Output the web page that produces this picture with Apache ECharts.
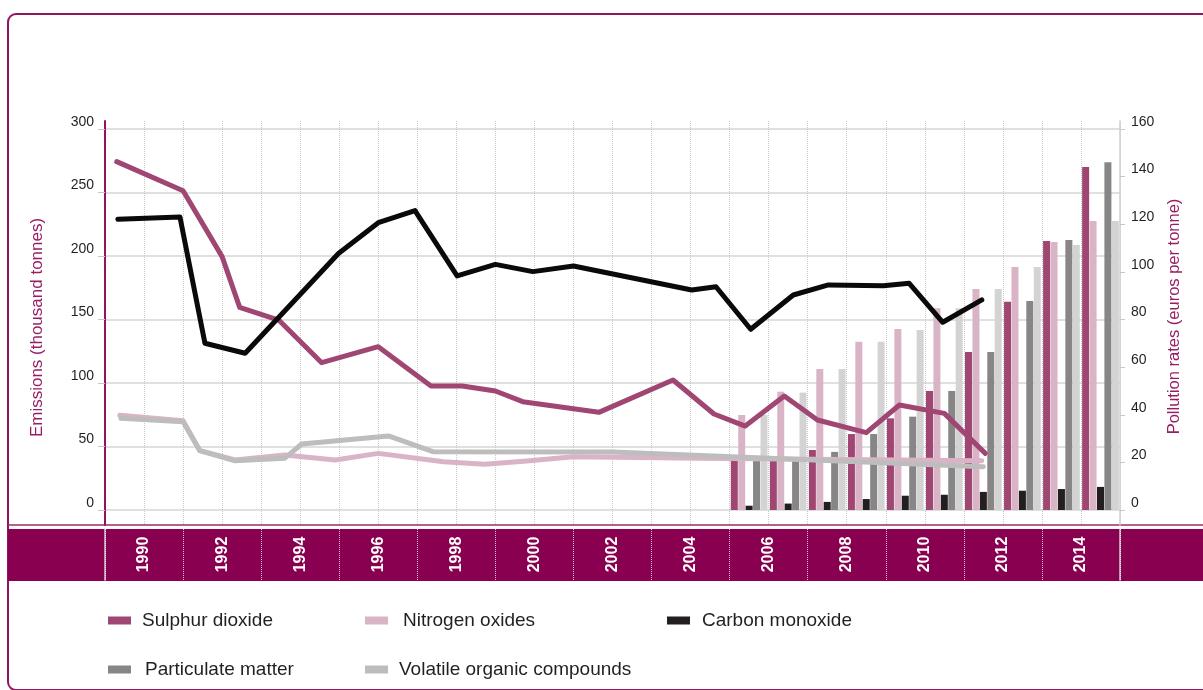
<!DOCTYPE html>
<html>
<head>
<meta charset="utf-8">
<script src="https://cdn.jsdelivr.net/npm/echarts@6/dist/echarts.min.js"></script>
<style>
  html, body { margin: 0; padding: 0; background: #ffffff; }
  #chart { width: 1203px; height: 690px; }
</style>
</head>
<body>
<div id="chart"></div>
<script>
// Year categories of the main plot and the labels of the magenta year band
const years = ['1990', '1991', '1992', '1993', '1994', '1995', '1996', '1997', '1998', '1999',
  '2000', '2001', '2002', '2003', '2004', '2005', '2006', '2007', '2008', '2009',
  '2010', '2011', '2012', '2013', '2014', '2015'];
const bandYears = ['1990', '1992', '1994', '1996', '1998', '2000', '2002', '2004', '2006',
  '2008', '2010', '2012', '2014'];

// Pollution rates (euros per tonne), right axis, bars
const rateYears = ['2006', '2007', '2008', '2009', '2010', '2011', '2012', '2013', '2014', '2015'];
const rateSO2 = [21, 22, 25.2, 31.9, 38.5, 50, 66.3, 87.5, 113, 144];
const rateNOx = [39.9, 49.7, 59.2, 70.7, 76, 84.7, 92.8, 102, 112.5, 121.4];
const rateCO = [1.8, 2.7, 3.4, 4.6, 6.0, 6.4, 7.6, 8.1, 8.8, 9.7];
const ratePM = [21, 22, 24.4, 31.9, 39.2, 50, 66.3, 87.8, 113.4, 146];
const rateVOC = [39.9, 49.3, 59.2, 70.7, 75.6, 84.7, 92.8, 102, 111.3, 121.4];

// Emissions (thousand tonnes), left axis, lines: time (decimal year) and value
const so2Time = [1990.3, 1992.0, 1993.0, 1993.45, 1994.45, 1995.55, 1997.0, 1998.35, 1999.15,
  2000.0, 2000.7, 2002.65, 2004.55, 2005.6, 2006.4, 2007.4, 2008.25, 2009.5, 2010.35, 2011.5, 2012.55];
const so2Emis = [274.3, 251.4, 199.5, 159.6, 149.6, 116, 128.6, 97.6, 97.6,
  93.7, 85.3, 76.9, 102.4, 75.6, 66.1, 89.8, 70.9, 60.9, 82.7, 76.1, 44.6];

const noxTime = [1990.38, 1992.0, 1992.43, 1993.33, 1994.6, 1995.9, 1997.0, 1998.67, 1999.73,
  2000.8, 2002.0, 2005.24, 2012.46];
const noxEmis = [74.6, 70.3, 46.7, 39.4, 43.3, 39.4, 44.6, 38, 36, 38.6, 42, 40.7, 38.8];

const vocTime = [1990.41, 1992.0, 1992.43, 1993.33, 1994.6, 1995.04, 1997.26, 1998.4, 2003.0, 2012.5];
const vocEmis = [72.2, 69.5, 46.7, 38.8, 40.7, 52, 58.3, 45.9, 45.7, 34.1];

const coTime = [1990.33, 1991.92, 1992.56, 1993.59, 1995.98, 1997.0, 1997.94, 1999.02, 2000.0,
  2000.96, 2002.0, 2005.03, 2005.65, 2006.54, 2007.63, 2008.53, 2009.94, 2010.6, 2011.46, 2012.46];
const coEmis = [228.9, 230.7, 131.3, 123.4, 202, 226.2, 235.7, 184.3, 193.4,
  187.7, 192.1, 173.2, 175.8, 142.3, 169.3, 177.2, 176.6, 178.5, 147.8, 165.4];

// Tick values of the two value axes
const emisTicks = { min: 0, max: 300, step: 50 };
const rateTicks = { min: 0, max: 160, step: 20 };

const FONT = "'Liberation Sans', Arial, sans-serif";
const INK = '#231f20';
const BRAND = '#8a0050';
const TITLE = '#981e63';

const COLORS = {
  so2: '#a04672',
  nox: '#d9b4c6',
  co: '#231f20',
  coLine: '#0a0a0a',
  pm: '#878586',
  vocBar: '#d3d3d3',
  vocLine: '#bdbdbd'
};

function pair(times, values) {
  return times.map((t, i) => [t, values[i]]);
}
function onYears(values) {
  return years.map(y => {
    const i = rateYears.indexOf(y);
    return i < 0 ? null : values[i];
  });
}

function lineSeries(name, times, values, color) {
  return {
    name, type: 'line', xAxisIndex: 1, yAxisIndex: 0,
    data: pair(times, values),
    symbol: 'none', z: 4,
    lineStyle: { color, width: 5, cap: 'round', join: 'round' },
    itemStyle: { color },
    emphasis: { disabled: true }
  };
}
function barSeries(name, values, color) {
  return {
    name, type: 'bar', xAxisIndex: 0, yAxisIndex: 1,
    data: onYears(values),
    barWidth: 7, barGap: '6%', z: 2,
    itemStyle: { color },
    emphasis: { disabled: true }
  };
}
function legendAt(name, color, left, top, pad) {
  return {
    data: [{ name, itemStyle: { color }, lineStyle: { opacity: 0 } }],
    left, top, padding: 0,
    icon: 'rect', itemWidth: 23, itemHeight: 8,
    textStyle: { fontFamily: FONT, fontSize: 19, color: INK, padding: [0, 0, 0, pad] }
  };
}

const chart = echarts.init(document.getElementById('chart'), null, { renderer: 'canvas' });

chart.setOption({
  animation: false,
  backgroundColor: '#ffffff',
  textStyle: { fontFamily: FONT },
  grid: [
    { left: 105, right: 83, top: 129, height: 381 },
    { left: 105, right: 83, top: 121, height: 404 },
    { left: 105, right: 83, top: 529, height: 51 }
  ],
  xAxis: [
    { gridIndex: 0, type: 'category', data: years, boundaryGap: true, show: false },
    { gridIndex: 0, type: 'value', min: 1990, max: 2016, show: false },
    {
      gridIndex: 1, type: 'category', data: years, boundaryGap: true,
      axisLine: { show: false }, axisTick: { show: false }, axisLabel: { show: false },
      splitLine: { show: true, interval: 0, lineStyle: { type: 'dotted', color: '#c8c8c8', width: 1 } }
    },
    {
      gridIndex: 2, type: 'category', data: bandYears, boundaryGap: true, position: 'bottom', z: 6,
      axisLine: { show: false },
      axisTick: { show: true, inside: true, length: 51, interval: 0,
        lineStyle: { type: 'dotted', color: 'rgba(255,255,255,0.75)', width: 1 } },
      axisLabel: { interval: 0, rotate: 90, margin: -25.5, align: 'center', verticalAlign: 'middle',
        color: '#ffffff', fontWeight: 'bold', fontSize: 16, fontFamily: FONT },
      splitLine: { show: false }
    }
  ],
  yAxis: [
    {
      gridIndex: 0, type: 'value', position: 'left',
      min: emisTicks.min, max: emisTicks.max, interval: emisTicks.step,
      name: 'Emissions (thousand tonnes)', nameLocation: 'middle', nameGap: 59,
      nameTextStyle: { color: TITLE, fontSize: 17, fontFamily: FONT, padding: [0, 16, 0, 0] },
      axisLine: { show: false },
      axisTick: { show: true, length: 7, lineStyle: { color: '#c8c8c8', width: 1 } },
      axisLabel: { color: INK, fontSize: 14, fontFamily: FONT, margin: 11, verticalAlign: 'bottom' },
      splitLine: { show: true, lineStyle: { color: '#d6d6d6', width: 1.5 } }
    },
    {
      gridIndex: 0, type: 'value', position: 'right',
      min: rateTicks.min, max: rateTicks.max, interval: rateTicks.step,
      name: 'Pollution rates (euros per tonne)', nameLocation: 'middle', nameGap: 46,
      nameTextStyle: { color: TITLE, fontSize: 16.5, fontFamily: FONT, padding: [0, 0, 0, 6] },
      axisLine: { show: false },
      axisTick: { show: true, length: 5, lineStyle: { color: '#c8c8c8', width: 1 } },
      axisLabel: { color: INK, fontSize: 14, fontFamily: FONT, margin: 11, verticalAlign: 'bottom' },
      splitLine: { show: false }
    },
    {
      gridIndex: 1, type: 'value', position: 'left', min: 0, max: 1,
      axisLine: { show: true, onZero: false, lineStyle: { color: '#8f1560', width: 2 } },
      axisTick: { show: false }, axisLabel: { show: false }, splitLine: { show: false }
    },
    {
      gridIndex: 1, type: 'value', position: 'right', min: 0, max: 1,
      axisLine: { show: true, onZero: false, lineStyle: { color: '#cfcfcf', width: 1.5 } },
      axisTick: { show: false }, axisLabel: { show: false }, splitLine: { show: false }
    },
    {
      gridIndex: 2, type: 'value', position: 'left', min: 0, max: 1, z: 6,
      axisLine: { show: true, onZero: false, lineStyle: { color: '#cfcfcf', width: 1.5 } },
      axisTick: { show: false }, axisLabel: { show: false }, splitLine: { show: false }
    },
    {
      gridIndex: 2, type: 'value', position: 'right', min: 0, max: 1, z: 6,
      axisLine: { show: true, onZero: false, lineStyle: { color: '#cfcfcf', width: 1.5 } },
      axisTick: { show: false }, axisLabel: { show: false }, splitLine: { show: false }
    }
  ],
  legend: [
    legendAt('Sulphur dioxide', COLORS.so2, 108, 611, 6),
    legendAt('Nitrogen oxides', COLORS.nox, 365, 611, 10),
    legendAt('Carbon monoxide', COLORS.co, 667, 611, 7),
    legendAt('Particulate matter', COLORS.pm, 108, 660, 9),
    legendAt('Volatile organic compounds', '#bcbcbc', 365, 660, 6)
  ],
  graphic: [
    { type: 'rect', silent: true, z: 0,
      shape: { x: 8, y: 14, width: 1300, height: 676, r: 8 },
      style: { fill: 'none', stroke: '#8f1560', lineWidth: 2 } },
    { type: 'rect', silent: true, z: 0,
      shape: { x: 8, y: 529, width: 1195, height: 52 },
      style: { fill: BRAND } },
    { type: 'line', silent: true, z: 0,
      shape: { x1: 8, y1: 525, x2: 1203, y2: 525 },
      style: { stroke: '#9a2d6a', lineWidth: 1.5 } }
  ],
  series: [
    barSeries('Sulphur dioxide', rateSO2, COLORS.so2),
    barSeries('Nitrogen oxides', rateNOx, COLORS.nox),
    barSeries('Carbon monoxide', rateCO, COLORS.co),
    barSeries('Particulate matter', ratePM, COLORS.pm),
    barSeries('Volatile organic compounds', rateVOC, COLORS.vocBar),
    lineSeries('Sulphur dioxide', so2Time, so2Emis, COLORS.so2),
    lineSeries('Nitrogen oxides', noxTime, noxEmis, COLORS.nox),
    lineSeries('Volatile organic compounds', vocTime, vocEmis, COLORS.vocLine),
    lineSeries('Carbon monoxide', coTime, coEmis, COLORS.coLine)
  ]
});
</script>
</body>
</html>
